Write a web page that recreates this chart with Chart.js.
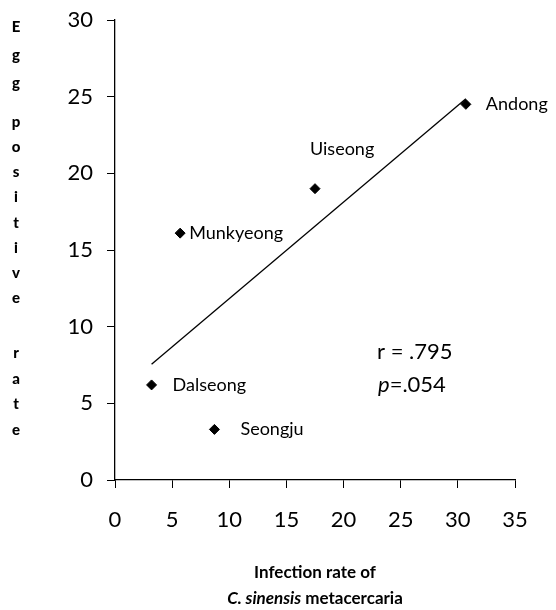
<!DOCTYPE html>
<html>
<head>
<meta charset="utf-8">
<script src="https://cdn.jsdelivr.net/npm/chart.js@4"></script>
<style>
  html, body { margin: 0; padding: 0; background: #fff; }
  #wrap { width: 556px; height: 610px; }
</style>
</head>
<body>
<div id="wrap"><canvas id="myChart" width="556" height="610"></canvas></div>
<script>
// datos
const regions = ['Andong', 'Uiseong', 'Munkyeong', 'Dalseong', 'Seongju'];
const infectionRate = [30.7, 17.5, 5.7, 3.2, 8.7];
const eggPositive = [24.5, 19.0, 16.1, 6.2, 3.3];
const xTicks = [0, 5, 10, 15, 20, 25, 30, 35];
const yTicks = [0, 5, 10, 15, 20, 25, 30];
const statText = ['r = .795', '=.054'];

// offsets de las etiquetas (px) respecto al punto
const labelOffsets = [[20, 0], [-5, -39], [9, 0], [21, 0], [26, 0]];

const FONT = 'Lato, "Open Sans", sans-serif';

// recta de regresion (minimos cuadrados)
function fitLine(xs, ys) {
  const n = xs.length;
  const mx = xs.reduce((a, b) => a + b, 0) / n;
  const my = ys.reduce((a, b) => a + b, 0) / n;
  let sxy = 0, sxx = 0;
  for (let i = 0; i < n; i++) {
    sxy += (xs[i] - mx) * (ys[i] - my);
    sxx += (xs[i] - mx) * (xs[i] - mx);
  }
  const b = sxy / sxx;
  const a = my - b * mx;
  const x0 = Math.min(...xs), x1 = Math.max(...xs);
  return [{ x: x0, y: a + b * x0 }, { x: x1, y: a + b * x1 }];
}

const points = infectionRate.map((x, i) => ({ x: x, y: eggPositive[i] }));

const textPlugin = {
  id: 'textPlugin',
  afterDraw(chart) {
    const c = chart.ctx;
    const xs = chart.scales.x, ys = chart.scales.y;
    c.save();
    c.fillStyle = '#000';

    // nombres de regiones
    c.font = '18px ' + FONT;
    c.textAlign = 'left';
    c.textBaseline = 'middle';
    regions.forEach((name, i) => {
      const px = xs.getPixelForValue(infectionRate[i]);
      const py = ys.getPixelForValue(eggPositive[i]);
      c.fillText(name, px + labelOffsets[i][0], py + labelOffsets[i][1]);
    });

    // r y p
    c.font = '22px ' + FONT;
    c.fillText(statText[0], 377, 352);
    c.font = 'italic 22px ' + FONT;
    c.fillText('p', 378, 385);
    const pw = c.measureText('p').width;
    c.font = '22px ' + FONT;
    c.fillText(statText[1], 378 + pw, 385);

    // titulo eje Y, letras apiladas
    c.font = '900 15px ' + FONT;
    c.textAlign = 'center';
    const words = [['Egg', 27, 28], ['positive', 122, 25.2], ['rate', 353, 25.7]];
    words.forEach(([w, y0, step]) => {
      for (let k = 0; k < w.length; k++) c.fillText(w[k], 16, y0 + k * step);
    });

    // titulo eje X
    const cx = (chart.chartArea.left + chart.chartArea.right) / 2;
    c.font = 'bold 17px ' + FONT;
    c.fillText('Infection rate of', cx, 573);
    const partA = 'C. sinensis', partB = ' metacercaria';
    c.font = 'bold italic 17px ' + FONT;
    const wa = c.measureText(partA).width;
    c.font = 'bold 17px ' + FONT;
    const wb = c.measureText(partB).width;
    const start = cx - (wa + wb) / 2;
    c.textAlign = 'left';
    c.font = 'bold italic 17px ' + FONT;
    c.fillText(partA, start, 599);
    c.font = 'bold 17px ' + FONT;
    c.fillText(partB, start + wa, 599);
    c.restore();
  }
};

new Chart(document.getElementById('myChart'), {
  type: 'scatter',
  data: {
    datasets: [{
      label: 'Regions',
      data: points,
      pointStyle: 'rectRot',
      pointRadius: 5,
      pointBackgroundColor: '#000',
      pointBorderColor: '#000',
      showLine: false
    }, {
      label: 'Trend',
      data: fitLine(infectionRate, eggPositive),
      showLine: true,
      borderColor: '#000',
      borderWidth: 1.3,
      pointRadius: 0
    }]
  },
  options: {
    responsive: false,
    animation: false,
    layout: { padding: { top: 20, right: 41, left: 0, bottom: 0 } },
    plugins: { legend: { display: false }, tooltip: { enabled: false } },
    scales: {
      x: {
        type: 'linear',
        min: 0, max: 35,
        afterBuildTicks(s) { s.ticks = xTicks.map(v => ({ value: v })); },
        afterFit(s) { s.height = 130; s.paddingRight = 0; },
        grid: { display: true, drawOnChartArea: false, drawTicks: true, tickLength: 8, color: '#000' },
        border: { color: '#000', width: 1.3 },
        ticks: { color: '#000', padding: 19, font: { family: FONT, size: 22 }, maxRotation: 0 }
      },
      y: {
        type: 'linear',
        min: 0, max: 30,
        afterBuildTicks(s) { s.ticks = yTicks.map(v => ({ value: v })); },
        afterFit(s) { s.width = 115; s.paddingTop = 0; s.paddingBottom = 0; },
        grid: { display: true, drawOnChartArea: false, drawTicks: true, tickLength: 8, color: '#000' },
        border: { color: '#000', width: 1.3 },
        ticks: { color: '#000', padding: 14, font: { family: FONT, size: 22 } }
      }
    }
  },
  plugins: [textPlugin]
});
</script>
</body>
</html>
